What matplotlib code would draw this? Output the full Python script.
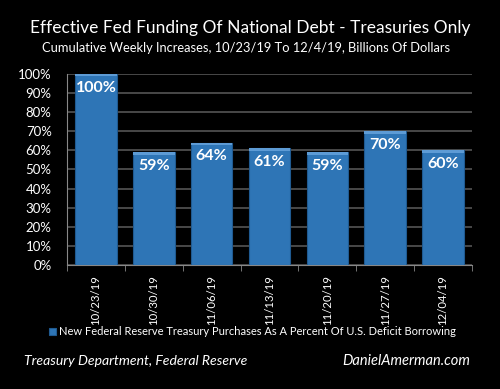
import matplotlib
matplotlib.use("Agg")
import matplotlib.pyplot as plt
from matplotlib.ticker import PercentFormatter

dates = ['10/23/19', '10/30/19', '11/06/19', '11/13/19', '11/20/19', '11/27/19', '12/04/19']
pct = [100, 59, 64, 61, 59, 70, 60]

plt.rcParams['font.family'] = ['Lato', 'DejaVu Sans']

fig = plt.figure(figsize=(5, 3.89), dpi=100, facecolor='black')
ax = fig.add_axes([0.134, 0.319, 0.81, 0.491], facecolor='black')

bars = ax.bar(range(len(pct)), pct, width=0.72, color='#2e75b6',
              edgecolor='#1f5a91', linewidth=0.8, zorder=3,
              label='New Federal Reserve Treasury Purchases As A Percent Of U.S. Deficit Borrowing')
# lighter cap on top of each bar
ax.bar(range(len(pct)), [1.2] * len(pct), bottom=[p - 1.2 for p in pct], width=0.72,
       color='#5d9bd5', linewidth=0, zorder=4)

for i, p in enumerate(pct):
    ax.text(i, p - 3.5, f'{p}%', ha='center', va='top', color='white',
            fontsize=11.5, fontweight='bold', zorder=5)

ax.set_ylim(0, 100)
ax.set_xlim(-0.5, len(pct) - 0.5)
ax.set_yticks(range(0, 101, 10))
ax.yaxis.set_major_formatter(PercentFormatter(decimals=0))
ax.set_xticks(range(len(pct)))
ax.set_xticklabels(dates, rotation=90, rotation_mode='anchor', ha='right', va='center',
                   color='white', fontsize=8.2)
ax.tick_params(axis='y', colors='white', labelsize=9.5, length=0, pad=11)
ax.tick_params(axis='x', length=0, pad=7)
# tick marks between categories
ax.set_xticks([i + 0.5 for i in range(-1, len(pct))], minor=True)
ax.tick_params(axis='x', which='minor', length=4, color='#888888', direction='out')

ax.grid(axis='y', color='#555555', linewidth=1.2, zorder=0)
for s in ['top', 'right']:
    ax.spines[s].set_visible(False)
ax.spines['left'].set_color('#888888')
ax.spines['bottom'].set_color('#888888')

leg = fig.legend(handles=[bars], loc='center', bbox_to_anchor=(0.505, 0.147),
                 frameon=False, fontsize=8.0, handlelength=0.6, handleheight=0.6,
                 handletextpad=0.3)
for t in leg.get_texts():
    t.set_color('white')

fig.text(0.5, 0.928, 'Effective Fed Funding Of National Debt - Treasuries Only',
         ha='center', va='center', color='white', fontsize=12.5)
fig.text(0.493, 0.876, 'Cumulative Weekly Increases, 10/23/19 To 12/4/19, Billions Of Dollars',
         ha='center', va='center', color='white', fontsize=9.3)
fig.text(0.048, 0.072, 'Treasury Department, Federal Reserve', ha='left', va='center',
         color='white', fontsize=10.1, style='italic')
fig.text(0.94, 0.072, 'DanielAmerman.com', ha='right', va='center',
         color='white', fontsize=10.5, style='italic')

fig.savefig('out.png', dpi=100, facecolor='black')
